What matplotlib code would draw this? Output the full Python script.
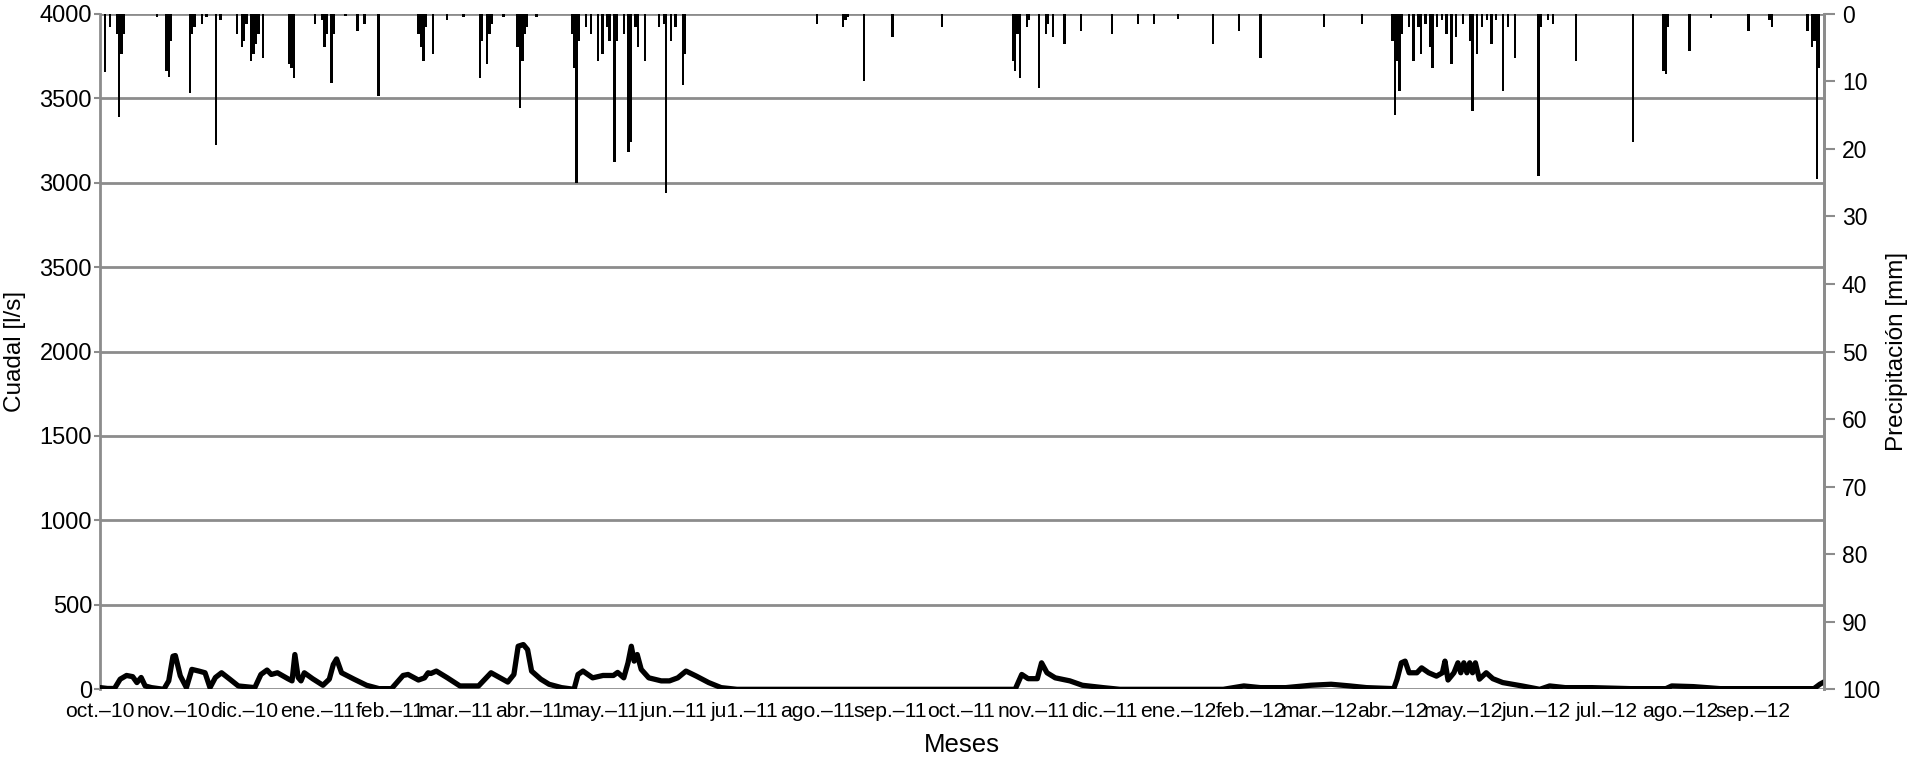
import numpy as np
import pandas as pd
import matplotlib
matplotlib.use("Agg")
import matplotlib.pyplot as plt

plt.rcParams['font.family'] = ['Liberation Sans', 'DejaVu Sans']

start = pd.Timestamp('2010-10-01')

# caudal (l/s): day offset from 1 oct 2010 and value
flow_day = [0, 3, 6, 8.4, 11.1, 13.7, 15.5, 17.3, 19, 21.7, 26.9, 29, 30.8, 31.8, 33.9, 36.5,
            38.8, 41.8, 44.4, 46.5, 48.8, 51.4, 54.9, 58.5, 65.5, 68.1, 70.7, 72.5, 75.1, 79.5,
            81.3, 82.5, 83.9, 85.1, 86.5, 90, 94.4, 97.1, 98.8, 100.2, 102.3, 107.6, 112.9,
            118.2, 123.5, 128.4, 130.5, 134.9, 137.5, 139, 140.2, 142.5, 147.2, 152.5, 160.4,
            163.1, 165.7, 172.8, 175.4, 177.2, 179.4, 181.2, 182.9, 186.8, 190.3, 195.6, 200.9,
            202.6, 204.7, 208.8, 213.2, 217.6, 219.4, 222, 223.8, 225.2, 226.4, 227.7, 229.4,
            232.6, 237.9, 241.4, 244.9, 248.4, 252.8, 258, 263.3, 270, 388, 390.8, 393.5,
            397.4, 399.2, 401.5, 405, 411.2, 416.5, 425.3, 432.4, 476.3, 485, 492, 502.8,
            513.4, 522, 530, 537, 548.6, 550, 551.8, 553.4, 555.1, 558.4, 560.4, 563.4, 566.7,
            569.2, 570.3, 571.6, 574.1, 575.8, 577, 578.3, 579.6, 580.8, 582, 583.2, 584.9,
            587.8, 590.6, 594.8, 603, 610.5, 614.7, 621.3, 632.6, 649, 664, 666.5, 675.6, 687,
            726.8, 729.3, 731]
flow_val = [10, 5, 5, 60, 82, 75, 40, 70, 20, 10, 0, 50, 196, 200, 80, 10,
            118, 108, 98, 10, 70, 98, 60, 20, 10, 88, 114, 88, 98, 63,
            50, 206, 70, 50, 98, 63, 24, 60, 147, 180, 98, 60, 24,
            4, 4, 82, 88, 55, 68, 98, 94, 108, 68, 20, 20,
            60, 98, 43, 88, 255, 265, 235, 108, 60, 30, 10, 0,
            88, 108, 68, 82, 82, 100, 68, 157, 255, 167, 206, 118,
            68, 50, 50, 68, 108, 78, 40, 10, 0, 0, 88, 63,
            63, 157, 98, 68, 50, 24, 10, 0, 0, 20, 10, 10,
            24, 30, 20, 10, 4, 60, 157, 167, 98, 98, 127, 98, 78,
            98, 167, 55, 98, 157, 98, 157, 98, 157, 98, 157, 60,
            98, 63, 40, 20, 0, 20, 10, 10, 4, 4, 20, 16, 4,
            4, 30, 43]

# precipitación (mm): day offset and value
rain_day = [2, 4, 7, 8, 9, 10, 24, 28, 29, 30, 38, 39, 40, 43, 45, 49, 51, 58, 60, 61, 62,
            64, 65, 66, 67, 69, 80, 81, 82, 91, 94, 95, 96, 98, 99, 104, 109, 112, 118,
            135, 136, 137, 138, 141, 147, 154, 161, 162, 164, 165, 166, 171, 177, 178, 179,
            180, 181, 185, 200, 201, 202, 203, 206, 208, 211, 213, 215, 216, 218, 219, 222,
            224, 225, 227, 228, 231, 237, 239, 240, 242, 244, 247, 248, 304, 315, 316, 317,
            324, 336, 357, 387, 388, 389, 390, 393, 394, 398, 401, 402, 404, 409, 416, 429,
            440, 447, 457, 472, 483, 492, 519, 535, 548, 549, 550, 551, 552, 555, 557, 559,
            560, 562, 564, 565, 567, 569, 571, 573, 575, 578, 581, 582, 584, 586, 588, 590,
            592, 595, 597, 600, 610, 611, 614, 616, 626, 650, 663, 664, 665, 674, 683, 699,
            708, 709, 724, 726, 727, 728, 729]
rain_mm = [8.6, 2, 3, 15.3, 6, 3, 0.5, 8.5, 9.3, 4, 11.7, 3, 2, 1.5, 0.5, 19.5, 1, 3, 5, 4, 1.5,
           7, 6, 4.5, 3, 6.5, 7.5, 8, 9.5, 1.5, 1, 5, 3, 10.3, 3, 0.3, 2.5, 1.5, 12.2,
           3, 5, 7, 2, 6, 1, 0.5, 9.5, 4, 7.5, 3, 1.5, 0.5, 5, 14, 7,
           3, 2, 0.5, 3, 8, 25, 4, 2, 3, 7, 6, 2, 4, 22, 4, 3,
           20.5, 19, 2, 5, 7, 2, 1.5, 26.6, 4, 2, 10.5, 6, 1.5, 2, 1, 0.5,
           10, 3.5, 2, 7, 8.5, 3, 9.5, 2, 1, 11, 3, 1.5, 3.5, 4.5, 2.5, 3,
           1.5, 1.5, 0.8, 4.5, 2.5, 6.5, 2, 1.5, 4, 15, 7, 11.5, 3, 2, 7, 2,
           6, 1.5, 5, 8, 2, 1, 3, 7.5, 3.5, 1.5, 4, 14.4, 6, 2, 1, 4.5,
           1, 11.5, 2, 6.5, 24, 2, 1, 1.5, 7, 19, 8.5, 9, 2, 5.5, 0.7, 2.5,
           1, 2, 2.5, 5, 4, 24.4, 8]

month_labels = ['oct.–10', 'nov.–10', 'dic.–10', 'ene.–11', 'feb.–11', 'mar.–11', 'abr.–11',
                'may.–11', 'jun.–11', 'ju1.–11', 'ago.–11', 'sep.–11', 'oct.–11', 'nov.–11',
                'dic.–11', 'ene.–12', 'feb.–12', 'mar.–12', 'abr.–12', 'may.–12', 'jun.–12',
                'jul.–12', 'ago.–12', 'sep.–12']
left_ticks = [0, 500, 1000, 1500, 2000, 2500, 3000, 3500, 4000]
left_labels = ['0', '500', '1000', '1500', '2000', '3500', '3000', '3500', '4000']

flow_dates = start + pd.to_timedelta(flow_day, unit='D')
rain_dates = start + pd.to_timedelta(rain_day, unit='D')
month_starts = pd.date_range(start, periods=len(month_labels), freq='MS')

grey = '#8c8c8c'

fig, ax = plt.subplots(figsize=(19.3, 7.6), dpi=100)
fig.subplots_adjust(left=0.052, right=0.945, top=0.982, bottom=0.093)

ax.plot(flow_dates, flow_val, color='black', linewidth=3.8, solid_joinstyle='round', zorder=3)
ax.set_xlim(start, start + pd.Timedelta(days=731))
ax.set_ylim(0, 4000)
ax.set_yticks(left_ticks)
ax.set_yticklabels(left_labels, fontsize=17)
ax.set_xticks(month_starts)
ax.set_xticklabels(month_labels, fontsize=15.2)
ax.tick_params(axis='x', length=0, pad=9)
ax.tick_params(axis='y', length=4, width=1.5, color=grey, pad=2)
ax.yaxis.grid(True, color=grey, linewidth=2)
ax.set_axisbelow(True)
for s in ['top', 'bottom']:
    ax.spines[s].set_visible(False)
ax.spines['left'].set_color(grey)
ax.spines['left'].set_linewidth(2)
ax.spines['right'].set_color(grey)
ax.spines['right'].set_linewidth(2)

ax2 = ax.twinx()
ax2.bar(rain_dates, rain_mm, width=1.0, color='black', align='center')
ax2.set_ylim(100, 0)
ax2.set_yticks(np.arange(0, 101, 10))
ax2.tick_params(axis='y', length=8, width=1.5, color=grey, labelsize=16.5, pad=5)
for s in ['top', 'bottom', 'left']:
    ax2.spines[s].set_visible(False)
ax2.spines['right'].set_color(grey)
ax2.spines['right'].set_linewidth(2)

mid_y = (0.982 + 0.093) / 2
fig.text(15 / 1930, mid_y, 'Cuadal [l/s]', rotation=90, ha='center', va='center', fontsize=17.5)
fig.text(1897 / 1930, mid_y, 'Precipitación [mm]', rotation=90, ha='center', va='center',
         fontsize=17.5)
fig.text((0.052 + 0.945) / 2, 1 - 745 / 760, 'Meses', ha='center', va='center', fontsize=18.5)

fig.savefig('out.png', dpi=100)
